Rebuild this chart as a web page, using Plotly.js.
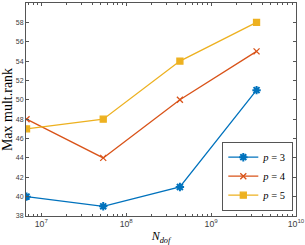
<!DOCTYPE html>
<html><head><meta charset="utf-8">
<script src="https://cdn.plot.ly/plotly-3.0.1.min.js"></script>
<style>html,body{margin:0;padding:0;background:#fff}#c{width:305px;height:245px}</style>
</head><body><div id="c"></div>
<script>
const ndof = [6.7e6, 5.36e7, 4.29e8, 3.43e9];
const p3 = [40, 39, 41, 51];
const p4 = [48, 44, 50, 55];
const p5 = [47, 48, 54, 58];
const seriesNames = ['<i>p</i> = 3', '<i>p</i> = 4', '<i>p</i> = 5'];
const yTicks = [38,40,42,44,46,48,50,52,54,56,58,60];

const colors = ['#0072BD', '#D95319', '#EDB120'];
const symbols = ['asterisk-open', 'x-thin-open', 'square'];
const sizes = [7, 6, 6];
const ys = [p3, p4, p5];
const traces = ys.map((y, i) => ({
  x: ndof, y: y, type: 'scatter', mode: 'lines+markers', name: seriesNames[i],
  line: {color: colors[i], width: 1.3},
  marker: {symbol: symbols[i], size: sizes[i], color: colors[i], line: {color: colors[i], width: i===0?2:1.3}}
}));
traces.push({x: ndof, y: p3, xaxis: 'x2', yaxis: 'y', type: 'scatter', mode: 'none', showlegend: false, hoverinfo: 'skip'});
const xr = [Math.log10(6.6e6), 10];
const axFont = {family: 'Liberation Sans, Arial', size: 7, color: '#404040'};
const layout = {
  width: 305, height: 245,
  margin: {l: 26, r: 9, t: 3, b: 29},
  paper_bgcolor: '#fff', plot_bgcolor: '#fff',
  showlegend: true,
  legend: {x: 0.99, y: 0.025, xanchor: 'right', yanchor: 'bottom',
    bordercolor: '#555', borderwidth: 1, bgcolor: '#fff',
    font: {family: 'Liberation Serif, serif', size: 10.5, color: '#000'},
    tracegroupgap: 0, itemwidth: 30},
  xaxis: {type: 'log', range: xr, dtick: 1, exponentformat: 'power',
    showgrid: false, zeroline: false, showline: true, linecolor: '#555', linewidth: 1, mirror: true,
    ticks: 'inside', ticklen: 3, tickcolor: '#555', tickfont: axFont,
    minor: {ticks: 'inside', ticklen: 2, tickcolor: '#555', showgrid: false},
    title: {text: '<i>N</i><sub><i>dof</i></sub>', font: {family: 'Liberation Serif, serif', size: 12, color: '#000'}, standoff: 4}},
  xaxis2: {type: 'log', range: xr, dtick: 1, overlaying: 'x', side: 'top', anchor: 'y',
    showticklabels: false, showgrid: false, zeroline: false, showline: false,
    ticks: 'inside', ticklen: 3, tickcolor: '#555',
    minor: {ticks: 'inside', ticklen: 2, tickcolor: '#555', showgrid: false}},
  yaxis: {range: [38, 60], tickvals: yTicks,
    showgrid: false, zeroline: false, showline: true, linecolor: '#555', linewidth: 1, mirror: 'ticks',
    ticks: 'inside', ticklen: 3, tickcolor: '#555', tickfont: axFont,
    title: {text: 'Max mult.rank', font: {family: 'Liberation Serif, serif', size: 14, color: '#000'}, standoff: 3}}
};
Plotly.newPlot('c', traces, layout, {staticPlot: true, displayModeBar: false});
</script></body></html>
